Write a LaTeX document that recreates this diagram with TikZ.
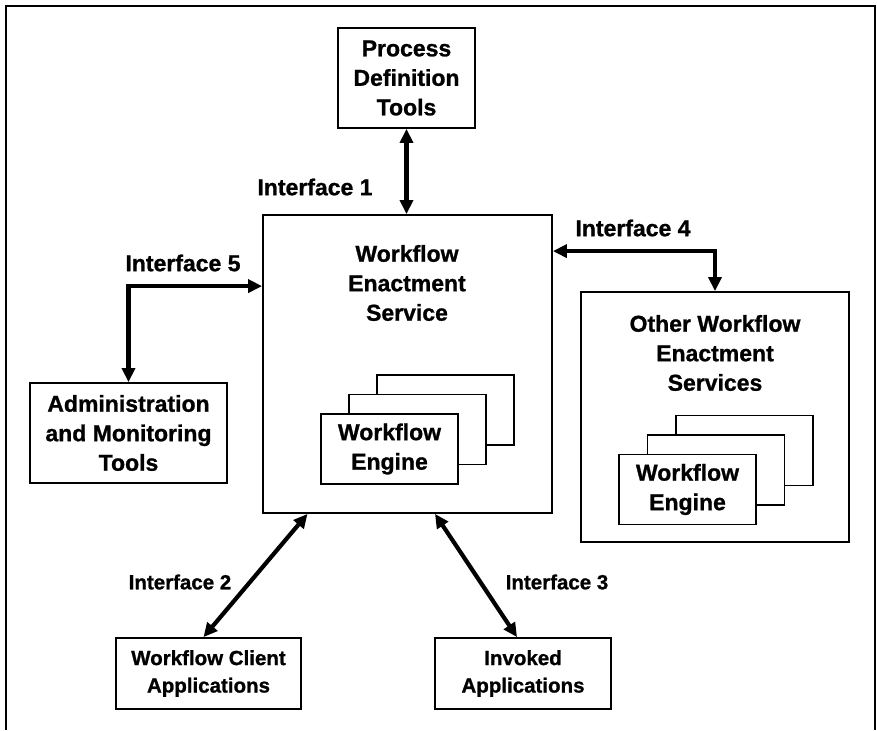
\documentclass[tikz,border=0pt]{standalone}
\usepackage{fontspec}
\setmainfont{Liberation Sans}[BoldFeatures={FakeBold=1}]
\usetikzlibrary{arrows.meta}
\begin{document}
\begin{tikzpicture}[
    x=1pt, y=-1pt,
    big/.style={font=\bfseries\fontsize{23}{29.5}\selectfont},
    small/.style={font=\bfseries\fontsize{20.5}{27.5}\selectfont},
    box/.style={draw, line width=1.8pt, align=center, inner sep=0pt, big},
    engine/.style={box, fill=white, minimum width=137pt, minimum height=70pt},
    lbl/.style={align=center, inner sep=0pt, big},
    link/.style={line width=4.2pt, <->},
    >={Triangle[length=14pt,width=13pt]}
]
\useasboundingbox (0,0) rectangle (877,730);
\draw[line width=2.4pt] (6,730) -- (6,6) -- (875,6) -- (875,730);

\node[box, minimum width=137pt, minimum height=100pt] (pdt) at (406.5,78) {Process\\Definition\\Tools};
\node[box, minimum width=289pt, minimum height=298pt] (wes) at (407.5,364) {};
\node[lbl] (westxt) at (407,283) {Workflow\\Enactment\\Service};
\foreach \k in {2,1}
    \node[engine] (eng\k) at (389.5+28*\k, 449-19.5*\k) {};
\node[engine] (eng) at (389.5,449) {Workflow\\Engine};

\node[box, minimum width=268pt, minimum height=250pt] (other) at (715,417) {};
\node[lbl] (othtxt) at (715,353) {Other Workflow\\Enactment\\Services};
\foreach \k in {2,1}
    \node[engine] (oeng\k) at (687.5+28.5*\k, 489.5-19.5*\k) {};
\node[engine] (oeng) at (687.5,489.5) {Workflow\\Engine};

\node[box, minimum width=197pt, minimum height=100pt] (admin) at (128.5,433) {Administration\\and Monitoring\\Tools};
\node[box, small, minimum width=185pt, minimum height=71pt] (client) at (208.5,673.5) {Workflow Client\\Applications};
\node[box, small, minimum width=176pt, minimum height=71pt] (invoked) at (523,673.5) {Invoked\\Applications};

\node[lbl] (if1) at (315,187) {Interface 1};
\node[lbl] (if4) at (633,228) {Interface 4};
\node[lbl] (if5) at (183,263) {Interface 5};
\node[lbl, small] (if2) at (180,582) {Interface 2};
\node[lbl, small] (if3) at (557,582) {Interface 3};

\draw[link] (pdt) -- (pdt |- wes.north);
\draw[link] ([yshift=-37pt]wes.north east) -| (other);
\draw[link] ([yshift=-72pt]wes.north west) -| (admin);
\draw[link] ([xshift=-100pt]wes.south) -- ([xshift=-5pt]client.north);
\draw[link] ([xshift=27.5pt]wes.south) -- ([xshift=-6pt]invoked.north);
\end{tikzpicture}
\end{document}
